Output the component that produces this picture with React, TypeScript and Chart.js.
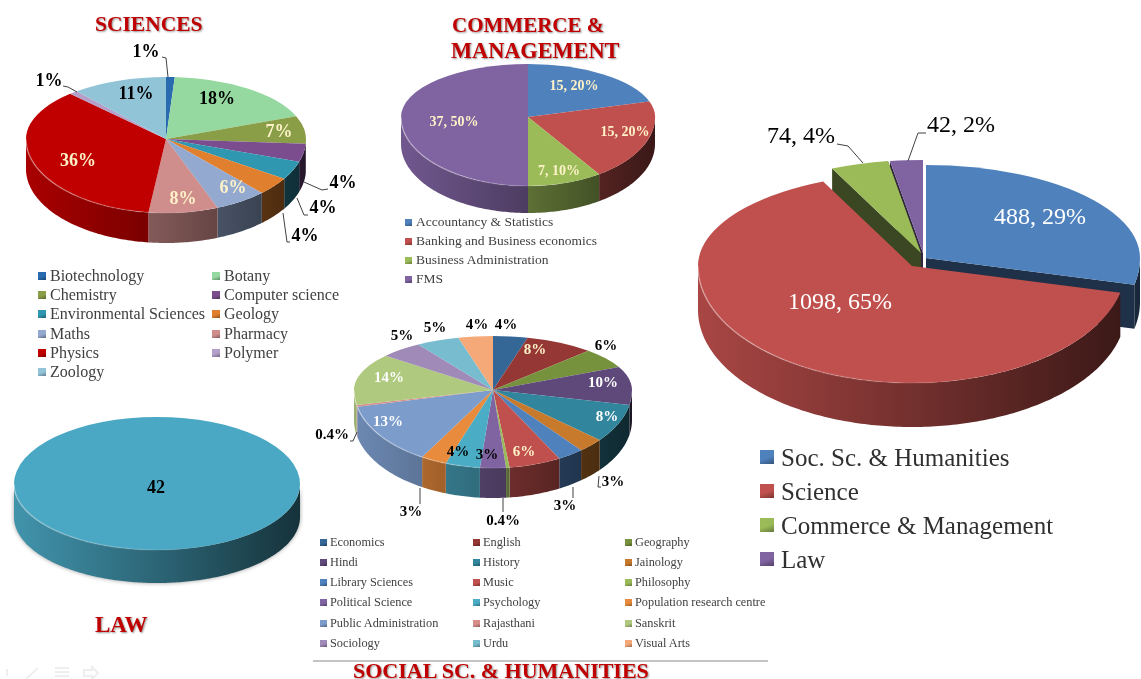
import { useEffect, useRef } from "react";
import { Chart, ArcElement, PieController } from "chart.js";

Chart.register(PieController, ArcElement);

const SERIF = '"Liberation Serif", serif';
const CREAM = "#fdf2c8";

// ---------- Sciences ----------
const scienceNames = ["Biotechnology", "Botany", "Chemistry", "Computer science", "Environmental Sciences", "Geology", "Maths", "Pharmacy", "Physics", "Polymer", "Zoology"];
const scienceValues = [1, 18, 7, 4, 4, 4, 6, 8, 36, 1, 11];
const scienceColors = ["#2a6bb0", "#96d9a0", "#8a9e48", "#7b4d8e", "#2f97b0", "#e07f2d", "#93a9cf", "#cf8d8c", "#c00000", "#b49fc8", "#92c4d8"];
const scienceLabels = ["1%", "18%", "7%", "4%", "4%", "4%", "6%", "8%", "36%", "1%", "11%"];

// ---------- Commerce ----------
const commerceNames = ["Accountancy & Statistics", "Banking and Business economics", "Business Administration", "FMS"];
const commerceValues = [15, 15, 7, 37];
const commerceColors = ["#4f81bd", "#c0504d", "#9bbb59", "#8064a2"];
const commerceLabels = ["15, 20%", "15, 20%", "7, 10%", "37, 50%"];

// ---------- Social sciences ----------
const socialNames = ["Economics", "English", "Geography", "Hindi", "History", "Jainology", "Library Sciences", "Music", "Philosophy", "Political Science", "Psychology", "Population research centre", "Public Administration", "Rajasthani", "Sanskrit", "Sociology", "Urdu", "Visual Arts"];
const socialValues = [4, 8, 6, 10, 8, 3, 3, 6, 0.4, 3, 4, 3, 13, 0.4, 14, 5, 5, 4];
const socialColors = ["#346696", "#953735", "#76923c", "#5f497a", "#31859c", "#c77a2c", "#4f81bd", "#c0504d", "#9bbb59", "#8064a2", "#4bacc6", "#e88b3c", "#7c9ccb", "#d98e8c", "#afc97e", "#9f8ab8", "#78bcd0", "#f5a878"];
const socialLabels = ["4%", "8%", "6%", "10%", "8%", "3%", "3%", "6%", "0.4%", "3%", "4%", "3%", "13%", "0.4%", "14%", "5%", "5%", "4%"];

// ---------- Law ----------
const lawNames = ["Law"];
const lawValues = [42];
const lawColors = ["#4aa8c4"];
const lawLabels = ["42"];

// ---------- Overall ----------
const overallNames = ["Soc. Sc. & Humanities", "Science", "Commerce & Management", "Law"];
const overallValues = [488, 1098, 74, 42];
const overallColors = ["#4f81bd", "#c0504d", "#9bbb59", "#8064a2"];
const overallLabels = ["488, 29%", "1098, 65%", "74, 4%", "42, 2%"];

// ---------- Layout (positions, sizes, styles) ----------
type P = [number, number];
type Spec = {
  values: number[]; colors: string[]; labels: string[];
  cx: number; cy: number; r: number; ryTop: number; ryBot: number; depth: number;
  font: string; labelPos: P[]; labelColors: string[]; leaders: P[][];
  explode?: P[]; order?: number[]; shadow?: boolean;
};

const K = "#000000";
const W = "#ffffff";

const PIES: Spec[] = [
  {
    values: scienceValues, colors: scienceColors, labels: scienceLabels,
    cx: 166, cy: 139, r: 140, ryTop: 62, ryBot: 74, depth: 30, font: `bold 18px ${SERIF}`,
    labelPos: [[146, 52], [217, 99], [279, 132], [343, 183], [323, 208], [305, 236], [233, 188], [183, 199], [78, 161], [49, 81], [136, 94]],
    labelColors: [K, K, CREAM, K, K, K, CREAM, CREAM, CREAM, K, K],
    leaders: [
      [[162, 57], [166, 58], [168, 77]], [[63, 86], [68, 87], [77, 92]],
      [[328, 189], [322, 190], [304, 182]], [[308, 215], [304, 215], [297, 198]], [[290, 242], [287, 242], [283, 213]],
    ],
  },
  {
    values: commerceValues, colors: commerceColors, labels: commerceLabels,
    cx: 528, cy: 117, r: 127, ryTop: 53, ryBot: 69, depth: 27, font: `bold 14px ${SERIF}`,
    labelPos: [[574, 86], [625, 132], [559, 171], [454, 122]],
    labelColors: [CREAM, CREAM, CREAM, CREAM], leaders: [],
  },
  {
    values: socialValues, colors: socialColors, labels: socialLabels,
    cx: 493, cy: 390, r: 139, ryTop: 54, ryBot: 78, depth: 30, font: `bold 15px ${SERIF}`,
    labelPos: [[506, 325], [535, 350], [606, 346], [603, 383], [607, 417], [613, 482], [565, 506], [524, 452], [503, 521], [487, 455], [458, 452], [411, 512], [388, 422], [332, 435], [389, 378], [402, 336], [435, 328], [477, 325]],
    labelColors: [K, CREAM, K, W, W, K, K, CREAM, K, K, K, K, W, K, W, K, K, K],
    leaders: [
      [[599, 476], [598, 487], [601, 487]], [[573, 487], [573, 498]], [[503, 498], [503, 512]],
      [[420, 488], [420, 504]], [[350, 441], [353, 441], [357, 432]],
    ],
  },
  {
    values: lawValues, colors: lawColors, labels: lawLabels,
    cx: 157, cy: 484, r: 143, ryTop: 67, ryBot: 66, depth: 33, font: `bold 18px ${SERIF}`,
    labelPos: [[156, 488]], labelColors: [K], leaders: [], shadow: true,
  },
  {
    values: overallValues, colors: overallColors, labels: overallLabels,
    cx: 912, cy: 266, r: 214, ryTop: 93, ryBot: 117, depth: 44, font: `24px ${SERIF}`,
    labelPos: [[1040, 218], [840, 303], [801, 137], [961, 126]],
    labelColors: [W, W, K, K],
    leaders: [[[837, 144], [848, 146], [863, 163]], [[926, 133], [918, 133], [908, 161]]],
    explode: [[14, -8], [0, 0], [9, -13], [11, -13]],
    order: [0, 3, 2, 1],
  },
];

const PAD = 70;

function shade(hex: string, f: number) {
  const n = parseInt(hex.slice(1), 16);
  const c = [(n >> 16) & 255, (n >> 8) & 255, n & 255].map((v) => Math.round(v * f));
  return `rgb(${c[0]},${c[1]},${c[2]})`;
}

function makePlugin(s: Spec) {
  return {
    id: "pie3d",
    beforeDatasetsDraw(chart: any) {
      const ctx: CanvasRenderingContext2D = chart.ctx;
      const meta = chart.getDatasetMeta(0);
      const order = s.order ?? meta.data.map((_: any, i: number) => i);
      for (const i of order) {
        const arc = meta.data[i];
        const { x, y, startAngle, endAngle, outerRadius: r } = arc;
        const [dx, dy] = s.explode ? s.explode[i] : [0, 0];
        const col = s.colors[i];
        const pt = (a: number, z: number): P => {
          const sn = Math.sin(a);
          const ry = sn >= 0 ? s.ryBot : s.ryTop;
          return [x + dx + r * Math.cos(a), y + dy + ry * sn + z];
        };
        // radial faces of an exploded slice
        if (s.explode && (dx !== 0 || dy !== 0)) {
          ctx.fillStyle = shade(col, 0.38);
          for (const a of [startAngle, endAngle]) {
            const e = pt(a, 0);
            ctx.beginPath();
            ctx.moveTo(x + dx, y + dy);
            ctx.lineTo(e[0], e[1]);
            ctx.lineTo(e[0], e[1] + s.depth);
            ctx.lineTo(x + dx, y + dy + s.depth);
            ctx.closePath();
            ctx.fill();
          }
        }
        // outer wall
        const a0 = Math.max(startAngle, 0);
        const a1 = Math.min(endAngle, Math.PI);
        const g = ctx.createLinearGradient(x + dx - r, 0, x + dx + r, 0);
        g.addColorStop(0, shade(col, 0.88));
        g.addColorStop(0.5, shade(col, 0.6));
        g.addColorStop(0.8, shade(col, 0.42));
        g.addColorStop(1, shade(col, 0.3));
        if (a1 > a0) {
          const n = Math.max(4, Math.ceil((a1 - a0) * 60));
          ctx.save();
          if (s.shadow) {
            ctx.shadowColor = "rgba(0,0,0,0.4)";
            ctx.shadowBlur = 4;
          }
          ctx.beginPath();
          for (let k = 0; k <= n; k++) {
            const p = pt(a0 + ((a1 - a0) * k) / n, 0);
            k ? ctx.lineTo(p[0], p[1]) : ctx.moveTo(p[0], p[1]);
          }
          for (let k = n; k >= 0; k--) {
            const p = pt(a0 + ((a1 - a0) * k) / n, s.depth);
            ctx.lineTo(p[0], p[1]);
          }
          ctx.closePath();
          ctx.fillStyle = g;
          ctx.fill();
          ctx.restore();
        }
        // top face: the far half is flatter than the near half
        for (const top of [true, false]) {
          ctx.save();
          ctx.translate(dx, dy);
          ctx.beginPath();
          if (top) ctx.rect(-1e4, -1e4, 2e4, 1e4 + y);
          else ctx.rect(-1e4, y, 2e4, 1e4);
          ctx.clip();
          ctx.translate(x, y);
          ctx.scale(1, (top ? s.ryTop : s.ryBot) / r);
          ctx.translate(-x, -y);
          arc.draw(ctx);
          ctx.restore();
        }
        // rim highlight
        if (a1 > a0) {
          const h = ctx.createLinearGradient(x + dx - r, 0, x + dx + 0.3 * r, 0);
          h.addColorStop(0, "rgba(255,255,255,0.35)");
          h.addColorStop(1, "rgba(255,255,255,0)");
          const n = Math.max(4, Math.ceil((a1 - a0) * 60));
          ctx.beginPath();
          for (let k = 0; k <= n; k++) {
            const p = pt(a0 + ((a1 - a0) * k) / n, 0);
            k ? ctx.lineTo(p[0], p[1]) : ctx.moveTo(p[0], p[1]);
          }
          ctx.strokeStyle = h;
          ctx.lineWidth = 1.5;
          ctx.stroke();
        }
      }
      return false;
    },
    afterDraw(chart: any) {
      const ctx: CanvasRenderingContext2D = chart.ctx;
      const ox = s.cx - s.r - PAD;
      const oy = s.cy - s.r - PAD;
      ctx.save();
      ctx.strokeStyle = "#404040";
      ctx.lineWidth = 1;
      for (const line of s.leaders) {
        ctx.beginPath();
        line.forEach((p, k) => (k ? ctx.lineTo(p[0] - ox, p[1] - oy) : ctx.moveTo(p[0] - ox, p[1] - oy)));
        ctx.stroke();
      }
      ctx.font = s.font;
      ctx.textAlign = "center";
      ctx.textBaseline = "middle";
      s.labels.forEach((t, i) => {
        ctx.fillStyle = s.labelColors[i];
        ctx.fillText(t, s.labelPos[i][0] - ox, s.labelPos[i][1] - oy);
      });
      ctx.restore();
    },
  };
}

function Pie({ spec }: { spec: Spec }) {
  const ref = useRef<HTMLCanvasElement | null>(null);
  useEffect(() => {
    const chart = new Chart(ref.current as HTMLCanvasElement, {
      type: "pie",
      data: {
        labels: spec.labels,
        datasets: [{ data: spec.values, backgroundColor: spec.colors, borderWidth: 0 }],
      },
      options: {
        animation: false,
        responsive: false,
        events: [],
        radius: spec.r,
        layout: { padding: 0 },
        plugins: { legend: { display: false }, tooltip: { enabled: false } },
      } as any,
      plugins: [makePlugin(spec) as any],
    });
    return () => chart.destroy();
  }, [spec]);
  const size = 2 * (spec.r + PAD);
  return (
    <canvas
      ref={ref}
      width={size}
      height={size}
      style={{ position: "absolute", left: spec.cx - spec.r - PAD, top: spec.cy - spec.r - PAD, width: size, height: size }}
    />
  );
}

function Legend({ names, colors, cols, rows, textGap, swatch, font, color }: {
  names: string[]; colors: string[]; cols: number[]; rows: number[]; textGap: number; swatch: number; font: number; color: string;
}) {
  return (
    <>
      {names.map((n, i) => {
        const x = cols[i % cols.length];
        const y = rows[Math.floor(i / cols.length)];
        return (
          <div key={n}>
            <div style={{
              position: "absolute", left: x, top: y - swatch / 2, width: swatch, height: swatch,
              background: `linear-gradient(160deg, ${colors[i]} 55%, ${shade(colors[i], 0.65)})`,
            }} />
            <div style={{
              position: "absolute", left: x + textGap, top: y, transform: "translateY(-50%)",
              fontFamily: SERIF, fontSize: font, color, whiteSpace: "nowrap", lineHeight: 1,
            }}>{n}</div>
          </div>
        );
      })}
    </>
  );
}

function Title({ text, left, top, size }: { text: string; left: number; top: number; size: number }) {
  return (
    <div style={{
      position: "absolute", left, top, transform: "translateY(-50%)", fontFamily: SERIF, fontWeight: "bold",
      fontSize: size, color: "#c00000", whiteSpace: "nowrap", lineHeight: 1, textShadow: "1px 1px 2px rgba(0,0,0,0.45)",
    }}>{text}</div>
  );
}

export default function App() {
  return (
    <div style={{ position: "fixed", left: 0, top: 0, width: 1141, height: 679, overflow: "hidden", background: "#fff" }}>
      {PIES.map((p, i) => <Pie key={i} spec={p} />)}
      <Title text="SCIENCES" left={95} top={25} size={21.5} />
      <Title text="COMMERCE &" left={452} top={25} size={21} />
      <Title text="MANAGEMENT" left={451} top={51} size={22.3} />
      <Title text="LAW" left={95} top={624} size={23} />
      <Title text="SOCIAL SC. & HUMANITIES" left={353} top={671} size={22} />
      <Legend names={scienceNames} colors={scienceColors} cols={[38, 212]} rows={[276, 295, 314, 334, 353, 372]} textGap={12} swatch={8} font={16} color="#404040" />
      <Legend names={commerceNames} colors={commerceColors} cols={[405]} rows={[222, 241, 260, 279]} textGap={11} swatch={7} font={13.5} color="#404040" />
      <Legend names={socialNames} colors={socialColors} cols={[320, 473, 625]} rows={[542, 562, 582, 602, 623, 643]} textGap={10} swatch={7} font={12.3} color="#404040" />
      <Legend names={overallNames} colors={overallColors} cols={[760]} rows={[457, 491, 525, 559]} textGap={21} swatch={14} font={25} color="#303030" />
      <div style={{ position: "absolute", left: 313, top: 660, width: 455, height: 2, background: "#c4c4c4" }} />
      <svg width={110} height={24} style={{ position: "absolute", left: 0, top: 660 }}>
        <g stroke="#eeeeee" strokeWidth={2} fill="none">
          <path d="M7 9v7" />
          <path d="M26 19l12-11" />
          <path d="M55 8h14M55 12h14M55 16h14M55 20h14" />
          <path d="M84 10h8v-3l6 6-6 6v-3h-8z" />
        </g>
      </svg>
    </div>
  );
}
